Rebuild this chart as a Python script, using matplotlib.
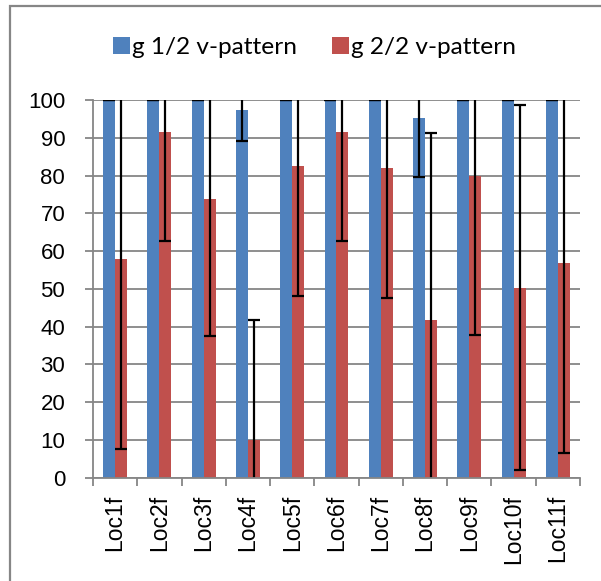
import matplotlib.pyplot as plt
import numpy as np
from matplotlib.patches import Rectangle

# Chart data
categories = ["Loc1f", "Loc2f", "Loc3f", "Loc4f", "Loc5f", "Loc6f",
              "Loc7f", "Loc8f", "Loc9f", "Loc10f", "Loc11f"]
g1_values = [100, 100, 100, 97.3, 100, 100, 100, 95.2, 100, 100, 100]
g1_errors = [0, 0, 0, 8.2, 0, 0, 0, 15.7, 0, 0, 0]
g2_values = [57.9, 91.6, 73.9, 9.9, 82.4, 91.6, 81.9, 41.8, 80.0, 50.3, 56.8]
g2_errors = [50.3, 29.0, 36.3, 31.8, 34.3, 29.0, 34.2, 49.5, 42.2, 48.3, 50.3]

series_labels = ["g 1/2 v-pattern", "g 2/2 v-pattern"]

blue = "#4F81BD"
red = "#C0504D"
grid_gray = "#868686"

plt.rcParams["font.family"] = ["Liberation Sans", "DejaVu Sans"]

fig = plt.figure(figsize=(6.01, 5.81), dpi=100)
ax = fig.add_axes([0.1547, 0.1778, 0.8103, 0.6501])

x = np.arange(len(categories))
width = 0.27

err_kw = dict(ecolor="black", elinewidth=1.6, capsize=4.3, capthick=1.6)
b1 = ax.bar(x - width / 2, g1_values, width, color=blue, label=series_labels[0],
            yerr=g1_errors, error_kw=err_kw, zorder=2)
b2 = ax.bar(x + width / 2, g2_values, width, color=red, label=series_labels[1],
            yerr=g2_errors, error_kw=err_kw, zorder=2)

ax.set_xlim(-0.5, len(categories) - 0.5)
ax.set_ylim(0, 100)
ax.set_yticks(range(0, 101, 10))
ax.set_xticks(x)
ax.set_xticklabels(categories, rotation=90, fontsize=16.5)
ax.tick_params(axis="x", length=0, pad=12.5)
# small ticks between the categories
ax.set_xticks(np.arange(-0.5, len(categories), 1), minor=True)
ax.tick_params(axis="x", which="minor", length=6, width=1.3, color=grid_gray)
ax.tick_params(axis="y", labelsize=16, length=6, width=1.3, color=grid_gray, pad=14)

ax.yaxis.grid(True, color=grid_gray, linewidth=1.3, zorder=0)
ax.set_axisbelow(True)
for side in ["top", "right"]:
    ax.spines[side].set_visible(False)
for side in ["left", "bottom"]:
    ax.spines[side].set_color(grid_gray)
    ax.spines[side].set_linewidth(1.3)

fig.legend(handles=[b1, b2], labels=series_labels, loc="center",
           bbox_to_anchor=(0.5237, 0.918), ncol=2, frameon=False,
           prop={"family": "Lato", "size": 17.6}, handlelength=0.675,
           handleheight=0.64, handletextpad=0.1, columnspacing=1.44)

# outer chart border (only left/top visible in the crop)
fig.add_artist(Rectangle((10.5 / 601, -0.1), 1.2, 1.1 - 5.5 / 581,
                         transform=fig.transFigure, fill=False,
                         edgecolor=grid_gray, linewidth=1.6))

fig.savefig("out.png", dpi=100)
